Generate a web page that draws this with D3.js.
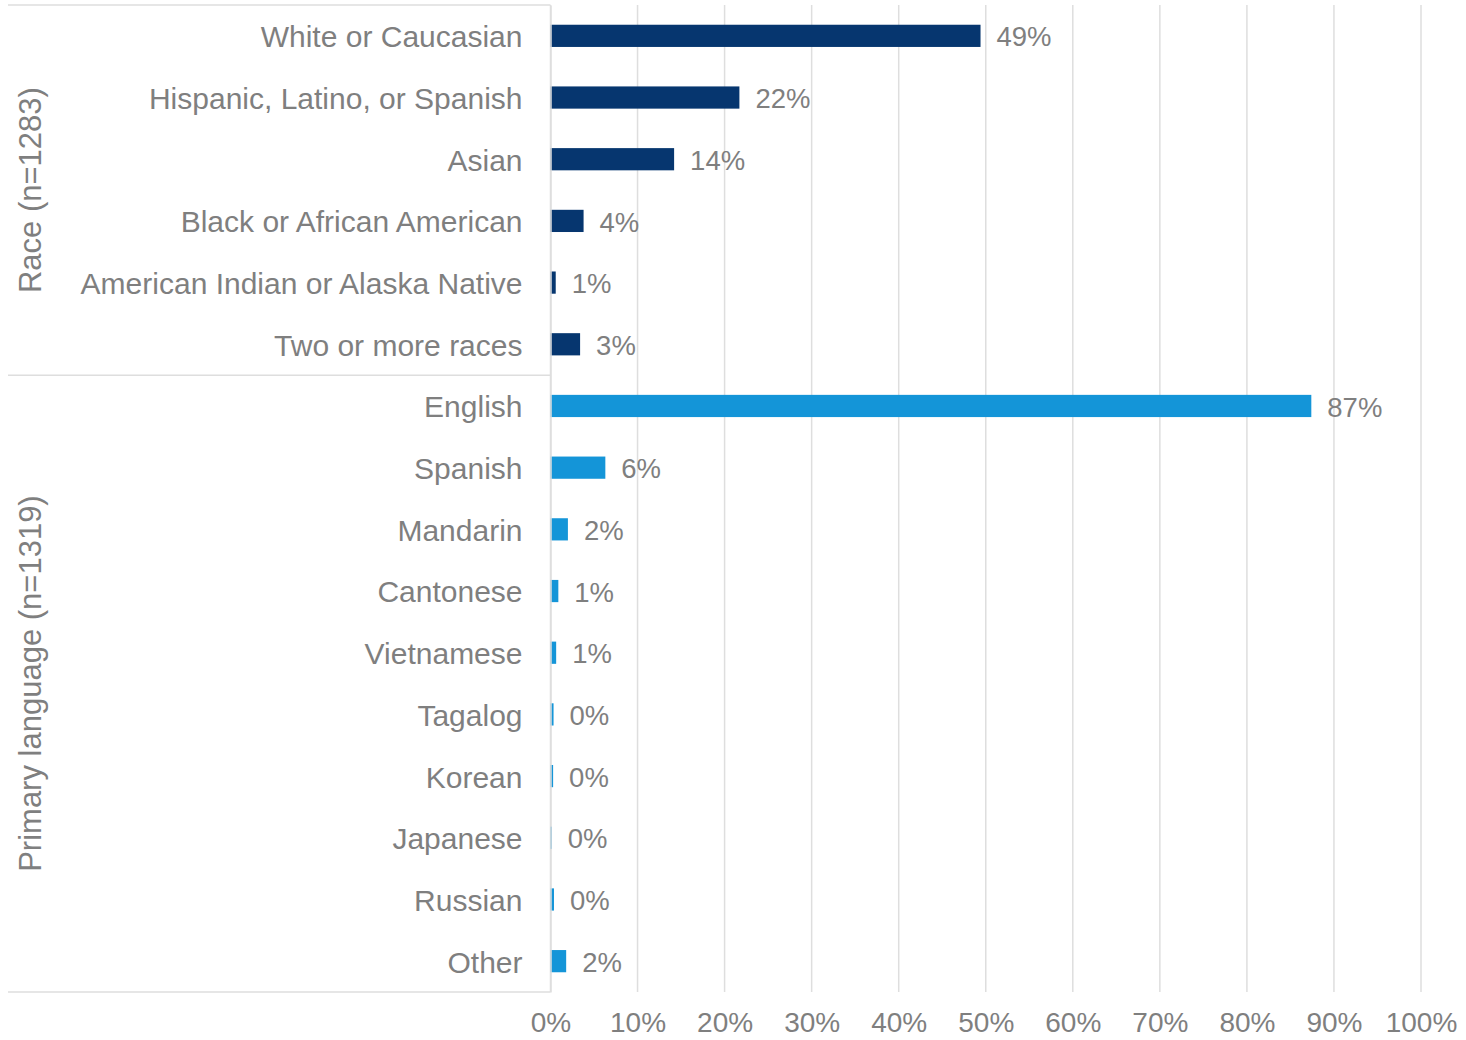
<!DOCTYPE html>
<html>
<head>
<meta charset="utf-8">
<script src="https://cdn.jsdelivr.net/npm/d3@7/dist/d3.min.js"></script>
<style>
  html, body { margin: 0; padding: 0; background: #ffffff; }
  svg { display: block; font-family: "Liberation Sans", "DejaVu Sans", sans-serif; }
</style>
</head>
<body>
<svg id="chart" width="1466" height="1040"></svg>
<script>
// Respondent demographics, percent of respondents
const raceCategories = ["White or Caucasian", "Hispanic, Latino, or Spanish", "Asian",
  "Black or African American", "American Indian or Alaska Native", "Two or more races"];
const raceValues = [49.4, 21.7, 14.2, 3.8, 0.6, 3.4];

const languageCategories = ["English", "Spanish", "Mandarin", "Cantonese", "Vietnamese",
  "Tagalog", "Korean", "Japanese", "Russian", "Other"];
const languageValues = [87.4, 6.3, 2.0, 0.9, 0.65, 0.35, 0.3, 0.15, 0.4, 1.8];

const groupLabels = ["Race (n=1283)", "Primary language (n=1319)"];
const xTicks = [0, 10, 20, 30, 40, 50, 60, 70, 80, 90, 100];

const groups = [
  { label: groupLabels[0], categories: raceCategories, values: raceValues, color: "#06366f" },
  { label: groupLabels[1], categories: languageCategories, values: languageValues, color: "#1495d8" }
];

const rows = [];
groups.forEach((g, gi) => g.categories.forEach((c, i) =>
  rows.push({ key: gi + "|" + c, name: c, value: g.values[i], color: g.color, group: gi })));

const svg = d3.select("#chart");
const plotLeft = 550.5, plotRight = 1421, plotTop = 5, plotBottom = 992, tableLeft = 8;
const textColor = "#7f7f7f", lineColor = "#dedede";

const x = d3.scaleLinear().domain([0, 100]).range([plotLeft, plotRight]);
const y = d3.scaleBand().domain(rows.map(r => r.key)).range([plotTop, plotBottom])
  .paddingInner(0.64).paddingOuter(0.32);
const step = y.step();

// Vertical gridlines
svg.append("g").selectAll("line").data(xTicks).join("line")
  .attr("x1", d => x(d)).attr("x2", d => x(d))
  .attr("y1", plotTop).attr("y2", plotBottom)
  .attr("stroke", lineColor).attr("stroke-width", 1.5);

// Category table borders (top, group separator, bottom)
const groupBounds = [plotTop];
let acc = 0;
groups.forEach(g => { acc += g.categories.length; groupBounds.push(plotTop + acc * step); });
svg.append("g").selectAll("line").data(groupBounds).join("line")
  .attr("x1", tableLeft).attr("x2", plotLeft)
  .attr("y1", d => d).attr("y2", d => d)
  .attr("stroke", lineColor).attr("stroke-width", 1.5);

// Bars
svg.append("g").selectAll("rect").data(rows).join("rect")
  .attr("x", x(0))
  .attr("y", d => y(d.key))
  .attr("width", d => x(d.value) - x(0))
  .attr("height", y.bandwidth())
  .attr("fill", d => d.color);

// Value labels
svg.append("g").selectAll("text").data(rows).join("text")
  .attr("x", d => x(d.value) + 16)
  .attr("y", d => y(d.key) + y.bandwidth() / 2 + 1)
  .attr("dy", "0.35em")
  .attr("font-size", 27.5)
  .attr("fill", textColor)
  .text(d => Math.round(d.value) + "%");

// Category axis
const yAxis = d3.axisLeft(y).tickSize(0).tickPadding(28).tickFormat(k => k.split("|")[1]);
const gy = svg.append("g").attr("transform", `translate(${plotLeft},0)`).call(yAxis);
gy.select(".domain").attr("stroke", lineColor).attr("stroke-width", 1.5);
gy.selectAll("text").attr("font-size", 30).attr("fill", textColor).attr("font-family", null)
  .attr("dy", "0.38em");

// Group labels, rotated
svg.append("g").selectAll("text").data(groups).join("text")
  .attr("transform", (g, i) => `translate(30,${(groupBounds[i] + groupBounds[i + 1]) / 2}) rotate(-90)`)
  .attr("text-anchor", "middle")
  .attr("dy", "0.35em")
  .attr("font-size", 31)
  .attr("fill", textColor)
  .text(g => g.label);

// Percent axis
const xAxis = d3.axisBottom(x).tickValues(xTicks).tickSize(0).tickPadding(20).tickFormat(d => d + "%");
const gx = svg.append("g").attr("transform", `translate(0,${plotBottom})`).call(xAxis);
gx.select(".domain").remove();
gx.selectAll("text").attr("font-size", 28).attr("fill", textColor).attr("font-family", null);
</script>
</body>
</html>
